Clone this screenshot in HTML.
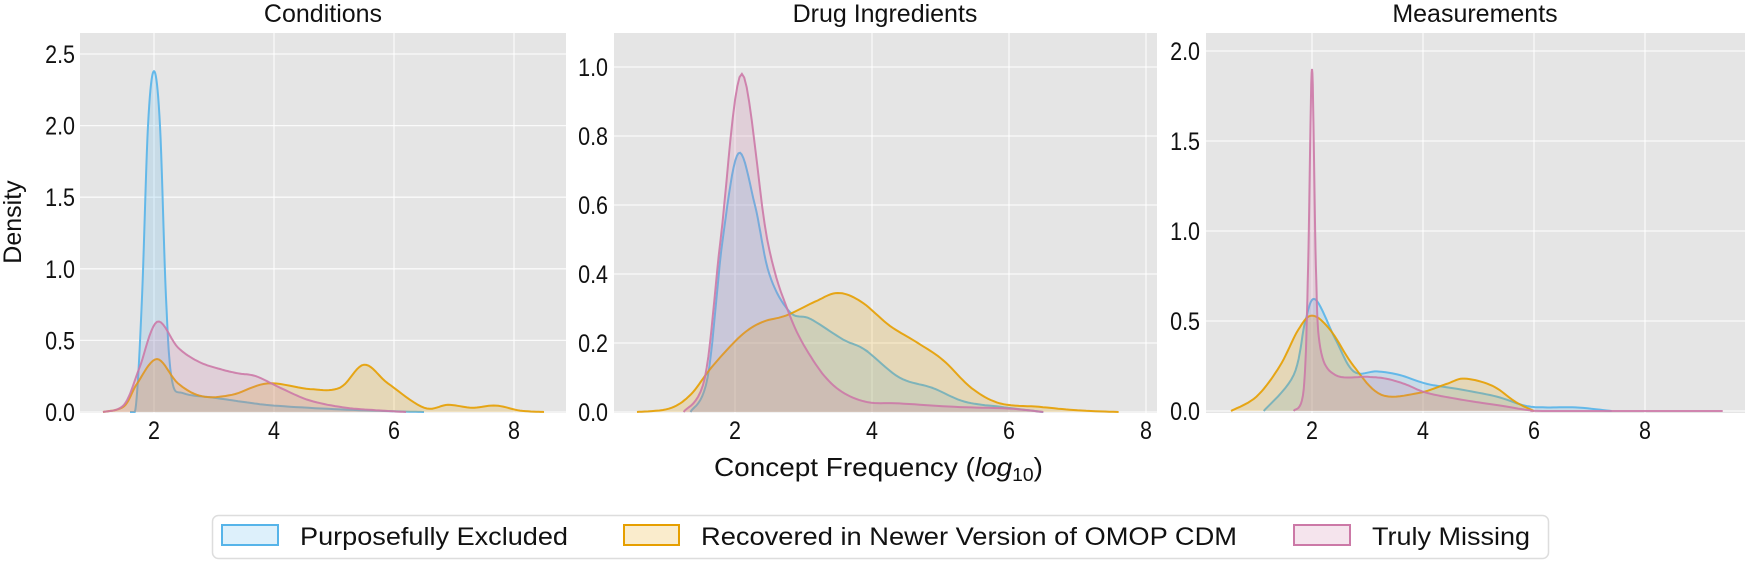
<!DOCTYPE html>
<html><head><meta charset="utf-8"><style>
html,body{margin:0;padding:0;background:#fff;}
svg text{font-family:"Liberation Sans",Arial,sans-serif;fill:#111;}
</style></head><body>
<svg id="s" width="1746" height="560" xmlns="http://www.w3.org/2000/svg">
<text x="323" y="22" font-size="25" text-anchor="middle">Conditions</text>
<text x="885" y="22" font-size="25" text-anchor="middle">Drug Ingredients</text>
<text x="1475" y="22" font-size="25" text-anchor="middle">Measurements</text>
<text transform="translate(21,222) rotate(-90)" font-size="25" text-anchor="middle">Density</text>
<text x="714" y="476" font-size="26" textLength="329" lengthAdjust="spacingAndGlyphs">Concept Frequency (<tspan font-style="italic">log</tspan><tspan font-size="18" dy="5">10</tspan><tspan dy="-5">)</tspan></text>
<rect x="212.5" y="515.5" width="1336" height="43" rx="6" fill="#fff" stroke="#ddd" stroke-width="1.5"/>
<rect x="222" y="525" width="56" height="20" fill="#56B4E9" fill-opacity="0.2" stroke="#56B4E9" stroke-width="2"/>
<text x="300" y="545" font-size="25" textLength="268" lengthAdjust="spacingAndGlyphs">Purposefully Excluded</text>
<rect x="624" y="525" width="55" height="20" fill="#E69F00" fill-opacity="0.2" stroke="#E69F00" stroke-width="2"/>
<text x="701" y="545" font-size="25" textLength="536" lengthAdjust="spacingAndGlyphs">Recovered in Newer Version of OMOP CDM</text>
<rect x="1294" y="525" width="56" height="20" fill="#CC79A7" fill-opacity="0.2" stroke="#CC79A7" stroke-width="2"/>
<text x="1372" y="545" font-size="25" textLength="158" lengthAdjust="spacingAndGlyphs">Truly Missing</text>
<g id="g"></g>
</svg>
<script>
var NS="http://www.w3.org/2000/svg",G=document.getElementById('g');
function el(t,a,txt,par){var e=document.createElementNS(NS,t);for(var k in a)e.setAttribute(k,a[k]);if(txt!=null)e.textContent=txt;(par||G).appendChild(e);return e;}
function lab(x,y,anchor,s){var g=el('g',{transform:"translate("+x+","+y+") scale(0.86,1)"});el('text',{x:0,y:0,"font-size":25,"text-anchor":anchor},s,g);}
var C={b:"#56B4E9",o:"#E69F00",p:"#CC79A7"};
var panels=[
{x0:80,x1:566,top:33,bot:413,zero:412,x2:154,ux:60,uy:143.2,yt:[0,0.5,1,1.5,2,2.5],lab:75,
 s:{
 b:[[1.6,0],[1.7,0.05],[1.8,0.8],[1.9,2.0],[2.0,2.38],[2.1,2.0],[2.2,0.8],[2.3,0.22],[2.5,0.13],[3,0.1],[3.5,0.07],[4,0.045],[5,0.02],[6,0.005],[6.5,0]],
 o:[[1.15,0],[1.5,0.04],[1.72,0.2],[2.05,0.37],[2.4,0.2],[2.8,0.11],[3.3,0.12],[3.9,0.2],[4.6,0.16],[5.1,0.17],[5.5,0.33],[5.9,0.2],[6.5,0.03],[6.9,0.05],[7.3,0.03],[7.7,0.045],[8.1,0.01],[8.5,0]],
 p:[[1.15,0],[1.5,0.05],[1.75,0.3],[2.05,0.63],[2.4,0.45],[2.75,0.35],[3.1,0.3],[3.4,0.27],[3.7,0.25],[4.1,0.17],[4.6,0.08],[5.2,0.03],[5.8,0.01],[6.2,0]]}},
{x0:614,x1:1157,top:33,bot:413,zero:412,x2:735,ux:68.5,uy:345,yt:[0,0.2,0.4,0.6,0.8,1.0],lab:608,
 s:{
 o:[[0.57,0],[1.04,0.01],[1.35,0.05],[1.66,0.13],[2.08,0.22],[2.39,0.26],[2.75,0.28],[3.17,0.32],[3.5,0.345],[3.84,0.32],[4.26,0.25],[4.67,0.2],[5.04,0.15],[5.45,0.07],[5.87,0.025],[6.44,0.015],[7.0,0.005],[7.6,0]],
 b:[[1.35,0],[1.6,0.1],[1.82,0.5],[2.05,0.75],[2.29,0.6],[2.5,0.4],[2.8,0.29],[3.1,0.27],[3.58,0.21],[3.9,0.18],[4.4,0.1],[4.88,0.07],[5.35,0.03],[5.87,0.015],[6.5,0]],
 p:[[1.25,0],[1.56,0.1],[1.79,0.5],[2.1,0.98],[2.47,0.5],[2.8,0.28],[3.14,0.15],[3.48,0.07],[3.9,0.03],[4.4,0.025],[5.2,0.015],[6.0,0.01],[6.5,0]]}},
{x0:1206,x1:1745,top:33,bot:413,zero:411,x2:1312,ux:55.5,uy:180,yt:[0,0.5,1,1.5,2],lab:1200,
 s:{
 o:[[0.54,0],[1.0,0.08],[1.42,0.25],[1.75,0.45],[2.0,0.53],[2.33,0.45],[2.75,0.25],[3.25,0.09],[3.92,0.1],[4.42,0.15],[4.75,0.18],[5.25,0.14],[5.67,0.05],[6.0,0]],
 b:[[1.13,0],[1.67,0.2],[1.88,0.5],[2.06,0.62],[2.42,0.4],[2.75,0.22],[3.17,0.22],[3.58,0.2],[4.08,0.15],[4.67,0.12],[5.33,0.08],[5.83,0.03],[6.2,0.02],[6.75,0.02],[7.4,0]],
 p:[[1.67,0],[1.85,0.12],[1.93,0.8],[2.0,1.9],[2.07,0.8],[2.15,0.35],[2.42,0.2],[3.0,0.19],[3.33,0.18],[3.67,0.15],[4.08,0.1],[4.75,0.06],[5.4,0.03],[5.9,0.005],[6.3,0],[9.4,0]]}}
];
function cr(pts){var out=[];for(var i=0;i<pts.length-1;i++){var p0=pts[Math.max(0,i-1)],p1=pts[i],p2=pts[i+1],p3=pts[Math.min(pts.length-1,i+2)];
 for(var t=0;t<1;t+=0.1){var t2=t*t,t3=t2*t;
 var f=function(a,b,c,d){return 0.5*((2*b)+(-a+c)*t+(2*a-5*b+4*c-d)*t2+(-a+3*b-3*c+d)*t3);};
 out.push([f(p0[0],p1[0],p2[0],p3[0]),Math.max(0,f(p0[1],p1[1],p2[1],p3[1]))]);}}
 out.push(pts[pts.length-1]);return out;}
panels.forEach(function(P){
 el('rect',{x:P.x0,y:P.top,width:P.x1-P.x0,height:P.bot-P.top,fill:"#E5E5E5"});
 var X=function(v){return P.x2+(v-2)*P.ux;},Y=function(v){return P.zero-v*P.uy;};
 P.yt.forEach(function(v){var y=Y(v);el('line',{x1:P.x0,x2:P.x1,y1:y,y2:y,stroke:"#fff","stroke-width":1.3,"stroke-opacity":0.8});
  lab(P.lab,y+9,"end",v.toFixed(1));});
 [2,4,6,8].forEach(function(v){var x=X(v);el('line',{x1:x,x2:x,y1:P.top,y2:P.bot,stroke:"#fff","stroke-width":1.3,"stroke-opacity":0.8});
  lab(x,439,"middle",String(v));});
 ["b","o","p"].forEach(function(k){var pts=cr(P.s[k]);var d="";
  pts.forEach(function(q,i){d+=(i?"L":"M")+X(q[0]).toFixed(1)+","+Y(q[1]).toFixed(1);});
  var f=d+"L"+X(pts[pts.length-1][0]).toFixed(1)+","+Y(0)+"L"+X(pts[0][0]).toFixed(1)+","+Y(0)+"Z";
  el('path',{d:f,fill:C[k],"fill-opacity":0.2,stroke:"none"});
  el('path',{d:d,fill:"none",stroke:C[k],"stroke-width":2,"stroke-opacity":0.9});
 });
});
</script>
</body></html>
